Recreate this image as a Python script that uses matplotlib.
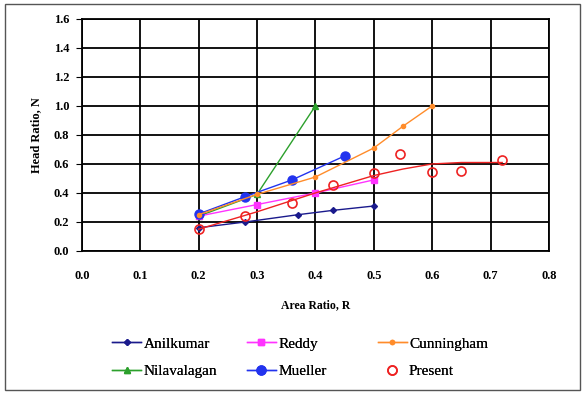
import matplotlib.pyplot as plt
from matplotlib.patches import Rectangle

plt.rcParams['font.family'] = ['Liberation Serif', 'DejaVu Serif']

# Anilkumar
anil_x = [0.2, 0.28, 0.37, 0.43, 0.5]
anil_y = [0.16, 0.20, 0.25, 0.28, 0.31]
# Reddy
reddy_x = [0.2, 0.3, 0.4, 0.5]
reddy_y = [0.24, 0.32, 0.40, 0.49]
# Cunningham
cunn_x = [0.2, 0.3, 0.4, 0.5, 0.55, 0.6]
cunn_y = [0.25, 0.39, 0.51, 0.71, 0.86, 1.0]
# Nilavalagan
nila_x = [0.2, 0.3, 0.4]
nila_y = [0.24, 0.39, 1.0]
# Mueller
muel_x = [0.2, 0.28, 0.36, 0.45]
muel_y = [0.255, 0.375, 0.49, 0.655]
# Present (measured points)
pres_x = [0.2, 0.28, 0.36, 0.43, 0.5, 0.545, 0.6, 0.65, 0.72]
pres_y = [0.15, 0.24, 0.33, 0.455, 0.54, 0.667, 0.547, 0.55, 0.63]
# Present trend line
trend_x = [0.2, 0.3, 0.4, 0.5, 0.55, 0.6, 0.65, 0.72]
trend_y = [0.15, 0.27, 0.40, 0.52, 0.565, 0.60, 0.61, 0.61]

fig = plt.figure(figsize=(5.84, 3.94), dpi=100)
ax = fig.add_axes([0.140, 0.363, 0.800, 0.589])

l_anil, = ax.plot(anil_x, anil_y, color='#1a1a8c', marker='D', markersize=3, lw=1, label='Anilkumar')
l_nila, = ax.plot(nila_x, nila_y, color='#2ca02c', marker='^', markersize=4, lw=1, label='Nilavalagan')
l_reddy, = ax.plot(reddy_x, reddy_y, color='#ff33ff', marker='s', markersize=4, lw=1, label='Reddy')
l_muel, = ax.plot(muel_x, muel_y, color='#2233ee', marker='o', markersize=6.5, lw=1, label='Mueller')
l_cunn, = ax.plot(cunn_x, cunn_y, color='#ff8c2a', marker='o', markersize=3, lw=1, label='Cunningham')
ax.plot(trend_x, trend_y, color='#ee2222', lw=1)
l_pres, = ax.plot(pres_x, pres_y, color='#ee2222', marker='o', markersize=6.5, mfc='none', mew=1.2,
                  ls='none', label='Present')

ax.set_xlim(0, 0.8)
ax.set_ylim(0, 1.6)
ax.set_xticks([i / 10 for i in range(9)])
ax.set_yticks([i / 5 for i in range(9)])
ax.xaxis.set_major_formatter(plt.FormatStrFormatter('%.1f'))
ax.yaxis.set_major_formatter(plt.FormatStrFormatter('%.1f'))
ax.grid(True, color='black', lw=1.3)
ax.tick_params(labelsize=9, length=4, color='black', direction='out', pad=5)
ax.tick_params(axis='x', length=0, pad=14)
for lbl in ax.get_xticklabels() + ax.get_yticklabels():
    lbl.set_fontweight('bold')
for s in ax.spines.values():
    s.set_color('black')
    s.set_linewidth(1.3)

ax.set_xlabel('Area Ratio, R', fontsize=8.5, fontweight='bold', labelpad=12)
ax.set_ylabel('Head Ratio, N', fontsize=9, fontweight='bold', labelpad=8)

# three legend columns placed like the original
columns = [([l_anil, l_nila], 0.169), ([l_reddy, l_muel], 0.399), ([l_cunn, l_pres], 0.623)]
for handles, xpos in columns:
    leg = fig.legend(handles=handles, loc='upper left', bbox_to_anchor=(xpos, 0.18),
                     frameon=False, prop={'family': 'Liberation Serif', 'size': 11},
                     handlelength=1.9, labelspacing=0.9, handletextpad=0.15)
    fig.add_artist(leg)

fig.patches.append(Rectangle((0.008, 0.01), 0.985, 0.98, transform=fig.transFigure,
                             fill=False, edgecolor='#555555', lw=1))

fig.savefig('out.png', dpi=100)
